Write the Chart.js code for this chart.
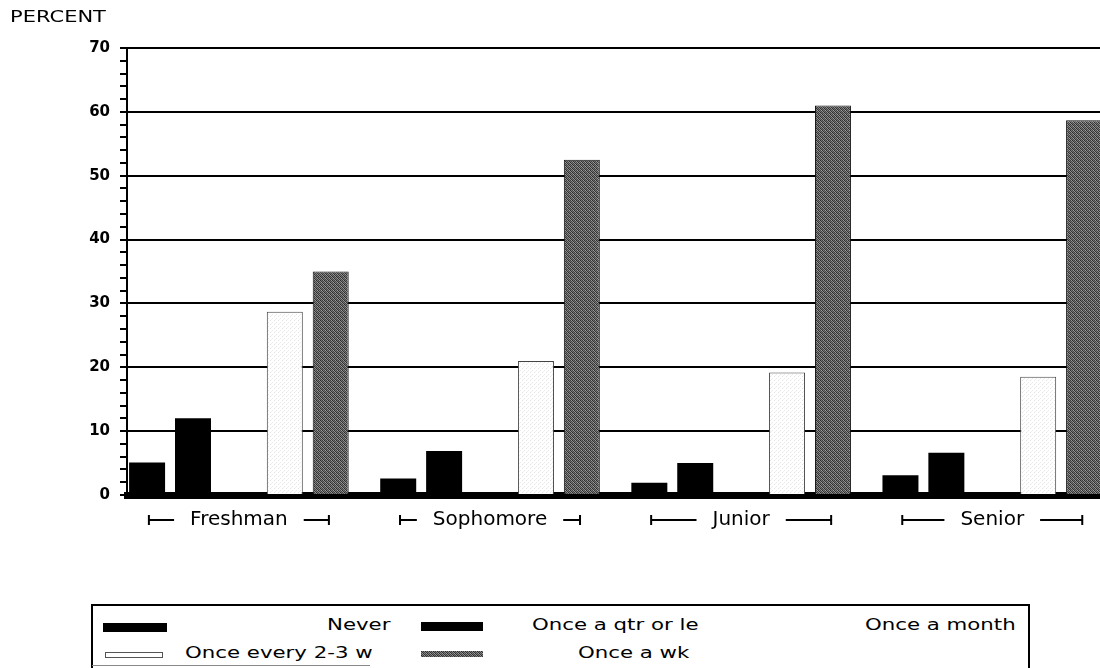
<!DOCTYPE html>
<html>
<head>
<meta charset="utf-8">
<title>PERCENT by class</title>
<script src="https://cdn.jsdelivr.net/npm/chart.js"></script>
<style>
    body { margin: 0; background: #fff; }
    .wrap { position: relative; width: 1100px; height: 668px; overflow: hidden; background: #fff; }
    .y-title, .legend-label {
        position: absolute;
        font-family: "DejaVu Sans", sans-serif;
        color: #000;
        white-space: nowrap;
        transform-origin: left center;
    }
    .y-title { left: 10px; top: 10px; font-size: 15px; line-height: 15px; transform: scaleX(1.4); }
    .legend-label { font-size: 16px; line-height: 16px; transform: scaleX(1.33); }
    .legend-box { position: absolute; left: 91px; top: 604px; width: 935px; height: 90px; border: 2px solid #000; }
    .legend-swatch { position: absolute; }
    .legend-under { position: absolute; left: 92px; top: 665px; width: 278px; height: 1px; background: #888; }
    canvas { position: absolute; left: 0; top: 0; }
</style>
</head>
<body>
<div class="wrap">
    <canvas class="percent-chart" width="1100" height="545"></canvas>
    <div class="y-title">PERCENT</div>
    <div class="legend-box"></div>
    <div class="legend-under"></div>
    <div class="legend"></div>
</div>
<script>
var categories = ['Freshman', 'Sophomore', 'Junior', 'Senior'];
var seriesNames = ['Never', 'Once a qtr or le', 'Once a month', 'Once every 2-3 w', 'Once a wk'];

var never = [5.1, 2.6, 1.9, 3.1];
var onceQtr = [12.0, 6.9, 5.0, 6.6];
var onceMonth = [0, 0, 0, 0];
var onceEvery23w = [28.7, 21.0, 19.2, 18.5];
var onceWk = [35.0, 52.5, 61.0, 58.7];

var yMin = 0;
var yMax = 70;
var yMajorStep = 10;
var yMinorStep = 2;

(function (Percent, undefined) {

    /**
     * Small fixed dither tile, used as a bar fill.
     */
    function makeTile(grays) {
        var tile = document.createElement('canvas');
        tile.width = grays[0].length;
        tile.height = grays.length;
        var tctx = tile.getContext('2d');
        for (var r = 0; r < grays.length; r++) {
            for (var c = 0; c < grays[r].length; c++) {
                var g = grays[r][c];
                tctx.fillStyle = 'rgb(' + g + ',' + g + ',' + g + ')';
                tctx.fillRect(c, r, 1, 1);
            }
        }
        return tile;
    }

    var darkTile = makeTile([
        [40, 120, 60, 150],
        [140, 50, 110, 70],
        [70, 160, 45, 125],
        [115, 65, 145, 55]
    ]);
    var lightTile = makeTile([
        [255, 255, 228, 255],
        [255, 255, 255, 255],
        [232, 255, 255, 255],
        [255, 255, 255, 240]
    ]);

    var ctx = document.querySelector('.percent-chart').getContext('2d');
    var darkFill = ctx.createPattern(darkTile, 'repeat');
    var lightFill = ctx.createPattern(lightTile, 'repeat');

    // Bar styles per series, same order as seriesNames.
    var seriesValues = [never, onceQtr, onceMonth, onceEvery23w, onceWk];
    var seriesStyles = [
        {bg: '#000', border: '#000', width: 0, swatch: 'background:#000;'},
        {bg: '#000', border: '#000', width: 0, swatch: 'background:#000;'},
        {bg: 'rgba(0,0,0,0)', border: 'rgba(0,0,0,0)', width: 0, swatch: ''},
        {bg: lightFill, border: '#444', width: 1,
            swatch: 'background:#fff;border:1px solid #555;box-sizing:border-box;'},
        {bg: darkFill, border: '#111', width: 1,
            swatch: 'background:url(' + darkTile.toDataURL() + ');'}
    ];

    var datasets = seriesNames.map(function (name, i) {
        return {
            label: name,
            data: seriesValues[i].map(function (v, j) {
                return {x: j, y: v};
            }),
            backgroundColor: seriesStyles[i].bg,
            borderColor: seriesStyles[i].border,
            borderWidth: seriesStyles[i].width,
            categoryPercentage: 0.914,
            barPercentage: 0.784
        };
    });

    /**
     * Draws the |-- label --| brackets around each class label.
     */
    var groupBrackets = {
        id: 'groupBrackets',
        afterDraw: function (chart) {
            var scale = chart.scales.x;
            var c = chart.ctx;
            var y = chart.chartArea.bottom + 25;
            c.save();
            c.font = '20px "DejaVu Sans"';
            c.strokeStyle = '#000';
            c.lineWidth = 2;
            scale.ticks.forEach(function (tick) {
                var name = categories[tick.value];
                if (!name) {
                    return;
                }
                var cx = scale.getPixelForValue(tick.value);
                var half = c.measureText(name).width / 2;
                var left = cx - 90;
                var right = cx + 90;
                c.beginPath();
                c.moveTo(left, y);
                c.lineTo(cx - half - 16, y);
                c.moveTo(cx + half + 16, y);
                c.lineTo(right, y);
                c.moveTo(left, y - 5);
                c.lineTo(left, y + 5);
                c.moveTo(right, y - 5);
                c.lineTo(right, y + 5);
                c.stroke();
            });
            c.restore();
        }
    };

    Percent.chart = new Chart(ctx, {
        type: 'bar',
        data: {datasets: datasets},
        plugins: [groupBrackets],
        options: {
            responsive: false,
            animation: false,
            devicePixelRatio: 1,
            layout: {padding: {top: 48, left: 0, right: 0, bottom: 0}},
            plugins: {
                legend: {display: false},
                tooltip: {enabled: false},
                title: {display: false}
            },
            scales: {
                x: {
                    type: 'linear',
                    min: -0.4456,
                    max: 3.429,
                    offset: false,
                    afterFit: function (scale) {
                        scale.height = 50;
                    },
                    grid: {display: false, drawTicks: false, offset: false},
                    border: {display: true, color: '#000', width: 7},
                    ticks: {
                        stepSize: 1,
                        includeBounds: false,
                        padding: 13,
                        color: '#000',
                        font: {family: '"DejaVu Sans"', size: 20},
                        callback: function (value) {
                            return categories[value] || '';
                        }
                    }
                },
                y: {
                    min: yMin,
                    max: yMax,
                    afterFit: function (scale) {
                        scale.width = 127;
                    },
                    grid: {
                        color: function (c) {
                            return c.tick && c.tick.value % yMajorStep === 0 ? '#000' : 'rgba(0,0,0,0)';
                        },
                        lineWidth: 2,
                        tickColor: '#000',
                        tickWidth: 2,
                        tickLength: 7
                    },
                    border: {display: true, color: '#000', width: 2},
                    ticks: {
                        stepSize: yMinorStep,
                        padding: 10,
                        color: '#000',
                        autoSkip: false,
                        font: {family: '"DejaVu Sans"', size: 15, weight: 'bold'},
                        callback: function (value) {
                            return value % yMajorStep === 0 ? value : '';
                        }
                    }
                }
            }
        }
    });

    /**
     * Legend, built from the chart's datasets.
     */
    var legendSpots = [
        {sx: 103, sy: 623, sw: 64, sh: 9, tx: 327, ty: 617},
        {sx: 421, sy: 622, sw: 62, sh: 9, tx: 532, ty: 617},
        {sx: 737, sy: 622, sw: 62, sh: 9, tx: 865, ty: 617},
        {sx: 105, sy: 652, sw: 58, sh: 6, tx: 185, ty: 645},
        {sx: 421, sy: 651, sw: 62, sh: 6, tx: 578, ty: 645}
    ];
    var legend = document.querySelector('.legend');
    Percent.chart.data.datasets.forEach(function (ds, i) {
        var spot = legendSpots[i];
        if (seriesStyles[i].swatch) {
            var sw = document.createElement('div');
            sw.className = 'legend-swatch';
            sw.style.cssText = 'left:' + spot.sx + 'px;top:' + spot.sy + 'px;width:' + spot.sw +
                'px;height:' + spot.sh + 'px;' + seriesStyles[i].swatch;
            legend.appendChild(sw);
        }
        var label = document.createElement('div');
        label.className = 'legend-label';
        label.style.left = spot.tx + 'px';
        label.style.top = spot.ty + 'px';
        label.textContent = ds.label;
        legend.appendChild(label);
    });

}(window.Percent = window.Percent || {}));
</script>
</body>
</html>
